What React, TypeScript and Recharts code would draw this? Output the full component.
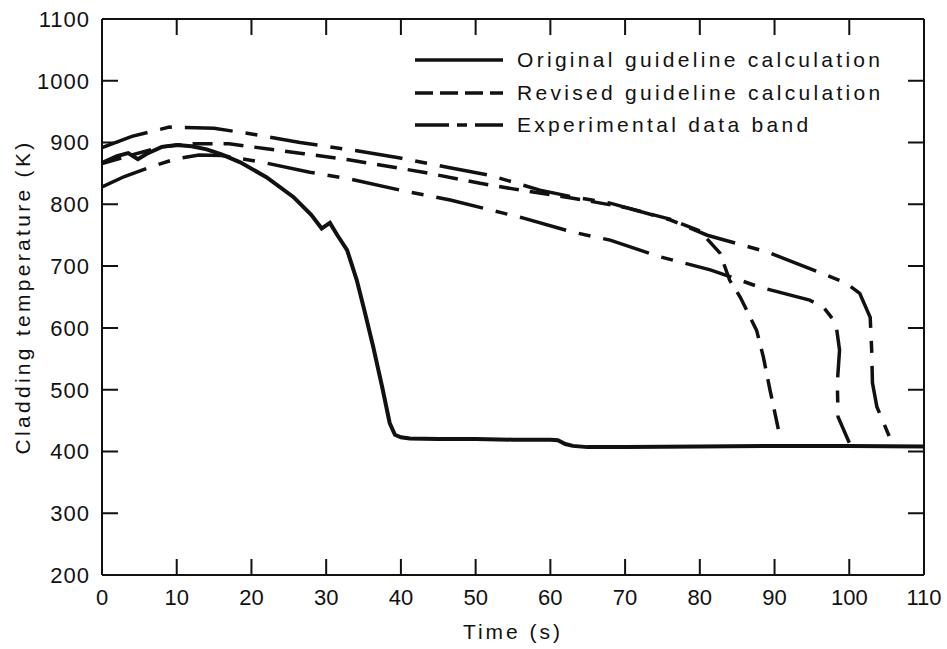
import { LineChart, Line, XAxis, YAxis, Legend } from "recharts";

// tick labels
const xTicks = [0, 10, 20, 30, 40, 50, 60, 70, 80, 90, 100, 110];
const yTicks = [200, 300, 400, 500, 600, 700, 800, 900, 1000, 1100];

// Original guideline calculation (solid)
const origTime = [0, 2, 3.5, 4.8, 6, 8, 10, 12, 14, 16, 18.5, 22, 25.6, 28, 29.4, 30.5, 31.5, 32.8, 34.1, 35.2, 36.3, 37.5, 38.5, 39.2, 40, 41.2, 45, 50, 55, 60, 61, 62, 63, 65, 70, 80, 90, 100, 110];
const origTemp = [867, 878, 883, 873, 882, 893, 896, 894, 889, 881, 868, 844, 812, 783, 761, 770, 750, 726, 677, 624, 569, 504, 446, 427, 423, 421, 420, 420, 419, 419, 418, 412, 409, 407, 407, 408, 409, 409, 408];

// Revised guideline calculation (dashed)
const revTime = [0, 4, 8, 12, 17, 22, 27, 33, 43, 50.6, 55, 63, 70, 76, 80, 82.7, 84, 85.4, 87.6, 88.5, 89.4, 90.7];
const revTemp = [866, 880, 893, 898, 898, 890, 882, 872, 852, 834, 825, 810, 795, 776, 757, 721, 677, 650, 596, 553, 499, 425];

// Experimental data band, upper edge
const upTime = [0, 4, 9, 15, 20, 26.5, 33.9, 39.9, 46.2, 51.9, 58.6, 63, 68, 76, 81, 89, 99.5, 101.4, 102.8, 103, 103.1, 103.7, 105.4];
const upTemp = [892, 910, 925, 923, 914, 900, 887, 875, 860, 847, 823, 812, 802, 775, 750, 723, 673, 656, 617, 564, 511, 472, 423];

// Experimental data band, lower edge
const lowTime = [0, 3, 6.4, 10, 13, 16, 21.5, 27.8, 33.2, 39.9, 46.6, 53.3, 56.3, 63, 68, 74.7, 81.4, 88, 94.7, 96.5, 98.2, 98.7, 98.4, 98.5, 100];
const lowTemp = [828, 845, 860, 874, 880, 879, 868, 852, 841, 823, 807, 787, 778, 755, 742, 715, 694, 666, 645, 634, 608, 564, 511, 456, 414];

const toPoints = (ts: number[], vs: number[]) => ts.map((t, i) => ({ t, K: vs[i] }));

const FONT = '"Liberation Sans", Arial, Helvetica, sans-serif';
const INK = "#111";
const TICK_LEN = 16;
// plot box size, used to mirror the inward ticks onto the top and right edges
const PLOT_W = 822;
const PLOT_H = 556;
const DASH = "20 11";
const DASH_DOT = "48 13 12 13";

const legendRows = [
  { label: "Original guideline calculation", dash: undefined },
  { label: "Revised guideline calculation", dash: "18 7" },
  { label: "Experimental data band", dash: "34 8 10 8" },
];

function LeftTick(props: any) {
  const x = Number(props.x);
  const y = Number(props.y);
  const v = props.payload.value;
  const ax = x + 12;
  const edge = v === 200 || v === 1100;
  return (
    <g>
      {!edge && (
        <path
          d={`M${ax},${y}h${TICK_LEN}M${ax + PLOT_W},${y}h${-TICK_LEN}`}
          stroke={INK}
          strokeWidth={2}
          fill="none"
        />
      )}
      <text x={x} y={y} dy="0.36em" textAnchor="end" fontFamily={FONT} fontSize={22} letterSpacing={1} fill={INK}>
        {v}
      </text>
    </g>
  );
}

function BottomTick(props: any) {
  const x = Number(props.x);
  const y = Number(props.y);
  const v = props.payload.value;
  const ay = y - 14;
  const edge = v === 0 || v === 110;
  return (
    <g>
      {!edge && (
        <path
          d={`M${x},${ay}v${-TICK_LEN}M${x},${ay - PLOT_H}v${TICK_LEN}`}
          stroke={INK}
          strokeWidth={2}
          fill="none"
        />
      )}
      <text x={x} y={y} dy="0.71em" textAnchor="middle" fontFamily={FONT} fontSize={22} fill={INK}>
        {v}
      </text>
    </g>
  );
}

function LegendBox() {
  return (
    <div style={{ fontFamily: FONT, fontSize: 21, letterSpacing: 3.3, color: INK }}>
      {legendRows.map((r) => (
        <div key={r.label} style={{ display: "flex", alignItems: "center", height: 32.5 }}>
          <svg width={96} height={10}>
            <line x1={8} x2={96} y1={5} y2={5} stroke={INK} strokeWidth={3.5} strokeDasharray={r.dash} />
          </svg>
          <span style={{ marginLeft: 14, whiteSpace: "nowrap" }}>{r.label}</span>
        </div>
      ))}
    </div>
  );
}

export default function App() {
  const axisLine = { stroke: INK, strokeWidth: 2 };
  return (
    <div style={{ position: "absolute", left: 0, top: 0, background: "#fff" }}>
      <LineChart width={947} height={649} margin={{ top: 18, right: 22, bottom: 34, left: 0 }}>
        <XAxis
          xAxisId="b"
          dataKey="t"
          type="number"
          domain={[0, 110]}
          ticks={xTicks}
          allowDataOverflow
          height={40}
          tickSize={0}
          tickMargin={14}
          tickLine={false}
          axisLine={axisLine}
          tick={BottomTick}
          interval={0}
          label={{
            content: ({ viewBox }: any) => (
              <text
                x={viewBox.x + viewBox.width / 2}
                y={viewBox.y + 56}
                textAnchor="middle"
                dominantBaseline="central"
                fontFamily={FONT}
                fontSize={21}
                letterSpacing={3}
                fill={INK}
              >
                Time (s)
              </text>
            ),
          }}
        />
        <XAxis
          xAxisId="top"
          orientation="top"
          type="number"
          domain={[0, 110]}
          allowDataOverflow
          height={1}
          tick={false}
          tickLine={false}
          axisLine={axisLine}
        />
        <YAxis
          yAxisId="l"
          type="number"
          domain={[200, 1100]}
          ticks={yTicks}
          allowDataOverflow
          width={102}
          tickSize={0}
          tickMargin={12}
          tickLine={false}
          axisLine={axisLine}
          tick={LeftTick}
          interval={0}
          label={{
            content: ({ viewBox }: any) => {
              const cx = viewBox.x + 22;
              const cy = viewBox.y + viewBox.height / 2;
              return (
                <text
                  x={cx}
                  y={cy}
                  transform={`rotate(-90, ${cx}, ${cy})`}
                  textAnchor="middle"
                  dominantBaseline="central"
                  fontFamily={FONT}
                  fontSize={21}
                  letterSpacing={3.3}
                  fill={INK}
                >
                  Cladding temperature (K)
                </text>
              );
            },
          }}
        />
        <YAxis
          yAxisId="r"
          orientation="right"
          type="number"
          domain={[200, 1100]}
          allowDataOverflow
          width={1}
          tick={false}
          tickLine={false}
          axisLine={axisLine}
        />
        <Legend
          layout="vertical"
          align="center"
          verticalAlign="middle"
          content={() => <LegendBox />}
          wrapperStyle={{ left: 407, top: 44, width: 520, height: 100 }}
        />
        <Line
          xAxisId="b"
          yAxisId="l"
          data={toPoints(upTime, upTemp)}
          dataKey="K"
          type="linear"
          stroke={INK}
          strokeWidth={3.5}
          strokeDasharray={DASH_DOT}
          dot={false}
          isAnimationActive={false}
        />
        <Line
          xAxisId="b"
          yAxisId="l"
          data={toPoints(lowTime, lowTemp)}
          dataKey="K"
          type="linear"
          stroke={INK}
          strokeWidth={3.5}
          strokeDasharray={DASH_DOT}
          dot={false}
          isAnimationActive={false}
        />
        <Line
          xAxisId="b"
          yAxisId="l"
          data={toPoints(revTime, revTemp)}
          dataKey="K"
          type="linear"
          stroke={INK}
          strokeWidth={3.5}
          strokeDasharray={DASH}
          dot={false}
          isAnimationActive={false}
        />
        <Line
          xAxisId="b"
          yAxisId="l"
          data={toPoints(origTime, origTemp)}
          dataKey="K"
          type="linear"
          stroke={INK}
          strokeWidth={4}
          dot={false}
          isAnimationActive={false}
        />
      </LineChart>
    </div>
  );
}
